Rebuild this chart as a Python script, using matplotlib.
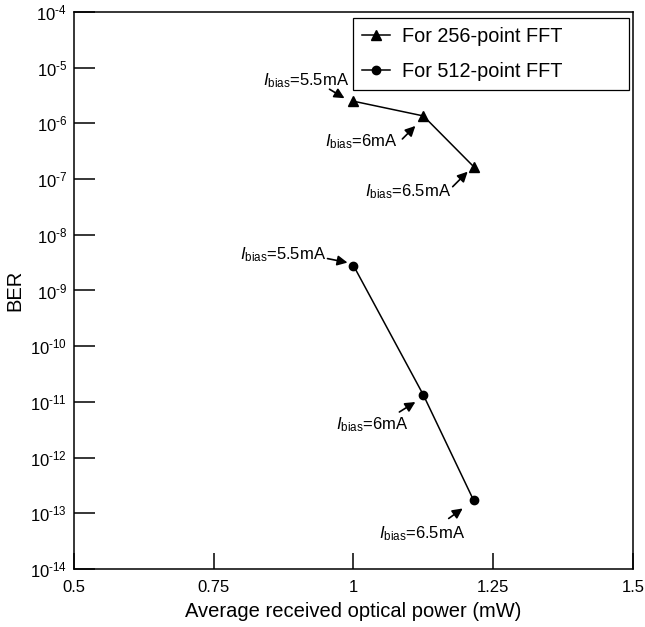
import matplotlib
matplotlib.use('Agg')
import matplotlib.pyplot as plt
import matplotlib.transforms as mtransforms

plt.rcParams['font.family'] = ['Liberation Sans', 'DejaVu Sans']
plt.rcParams['mathtext.fontset'] = 'custom'
plt.rcParams['mathtext.rm'] = 'Liberation Sans'
plt.rcParams['mathtext.it'] = 'Liberation Sans:italic'

# data
power = [1.0, 1.125, 1.215]
ber_256 = [2.5e-6, 1.36e-6, 1.67e-7]
ber_512 = [2.8e-9, 1.33e-11, 1.7e-13]
bias_labels = ['5.5mA', '6mA', '6.5mA']

xticks = [0.5, 0.75, 1, 1.25, 1.5]
xticklabels = ['0.5', '0.75', '1', '1.25', '1.5']
yexp = list(range(-14, -3))

# label layout, pixel offsets from each point: text centre, arrow start, arrow end
lay_256 = [((-47, 21), (-24, 12), (-9, 3)),
           ((-62, -26), (-21, -23), (-8, -10)),
           ((-66, -25), (-21, -20), (-6, -5))]
lay_512 = [((-70, 11), (-26, 7), (-6, 3)),
           ((-51, -30), (-24, -17), (-8, -7)),
           ((-52, -33), (-25, -18), (-11, -8))]

fig = plt.figure(figsize=(6.45, 6.27), dpi=100)
ax = fig.add_axes([0.1147, 0.0925, 0.8667, 0.8884])

ax.plot(power, ber_256, 'k-^', lw=1.1, ms=7.5, label='For 256-point FFT')
ax.plot(power, ber_512, 'k-o', lw=1.1, ms=6, label='For 512-point FFT')

ax.set_yscale('log')
ax.set_xlim(0.5, 1.5)
ax.set_ylim(1e-14, 1e-4)
ax.set_xticks(xticks)
ax.set_xticklabels(xticklabels)
ax.set_yticks([10.0 ** e for e in yexp])
ax.set_yticklabels([r'10$^{\text{%d}}$' % e for e in yexp])
ax.minorticks_off()
ax.tick_params(axis='both', labelsize=12, direction='in', width=1.1)
ax.tick_params(axis='y', length=15, pad=5)
ax.tick_params(axis='x', length=11.5, pad=8)
for s in ax.spines.values():
    s.set_linewidth(1.1)

ax.set_xlabel('Average received optical power (mW)', fontsize=14.5, labelpad=5)
ax.set_ylabel('BER', fontsize=14.5, labelpad=4)


def label_points(ys, layout):
    for x, y, lab, (txt, a0, a1) in zip(power, ys, bias_labels, layout):
        tt = mtransforms.offset_copy(ax.transData, fig, x=txt[0], y=txt[1], units='dots')
        ax.text(x, y, r'$I_{\mathrm{bias}}$=' + lab, transform=tt, fontsize=12,
                ha='center', va='center')
        t0 = mtransforms.offset_copy(ax.transData, fig, x=a0[0], y=a0[1], units='dots')
        t1 = mtransforms.offset_copy(ax.transData, fig, x=a1[0], y=a1[1], units='dots')
        ax.annotate('', xy=(x, y), xycoords=t1, xytext=(x, y), textcoords=t0,
                    arrowprops=dict(arrowstyle='-|>', color='k', lw=1.2,
                                    mutation_scale=15, shrinkA=0, shrinkB=0))


label_points(ber_256, lay_256)
label_points(ber_512, lay_512)

leg = ax.legend(loc='upper left', bbox_to_anchor=(0.499, 0.865, 0.494, 0.124),
                mode='expand', borderaxespad=0,
                fontsize=14.3, fancybox=False, edgecolor='k', framealpha=1,
                handlelength=1.4, labelspacing=0.8, borderpad=0.45, handletextpad=0.6)
leg.get_frame().set_linewidth(0.9)

fig.savefig('out.png', dpi=100)
